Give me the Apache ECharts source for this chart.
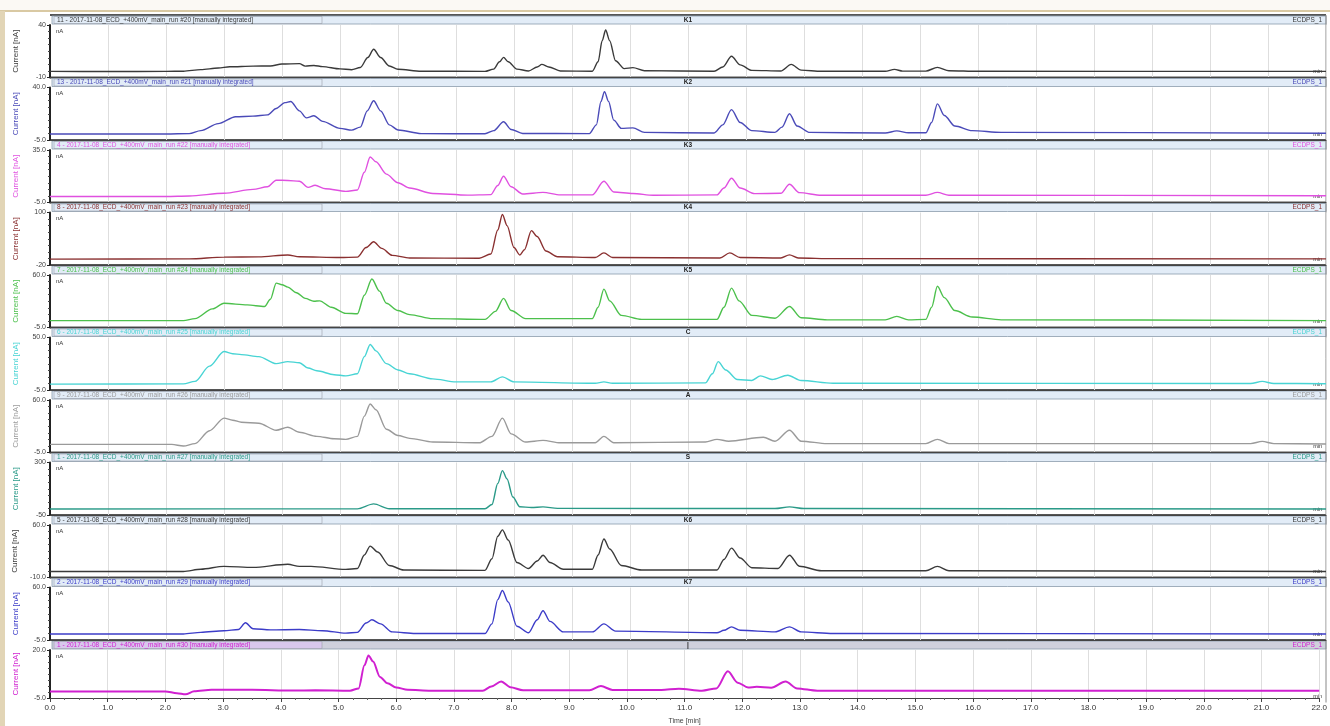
<!DOCTYPE html>
<html>
<head>
<meta charset="utf-8">
<script src="https://cdn.jsdelivr.net/npm/echarts@6/dist/echarts.min.js"></script>
<style>
  html, body { margin: 0; padding: 0; background: #fff; }
  #chart { width: 1330px; height: 726px; }
</style>
</head>
<body>
<div id="chart"></div>
<script>
  // run headers, top to bottom
  var runTitles = [
    '11 - 2017-11-08_ECD_+400mV_main_run #20 [manually integrated]',
    '13 - 2017-11-08_ECD_+400mV_main_run #21 [manually integrated]',
    '4 - 2017-11-08_ECD_+400mV_main_run #22 [manually integrated]',
    '8 - 2017-11-08_ECD_+400mV_main_run #23 [manually integrated]',
    '7 - 2017-11-08_ECD_+400mV_main_run #24 [manually integrated]',
    '6 - 2017-11-08_ECD_+400mV_main_run #25 [manually integrated]',
    '9 - 2017-11-08_ECD_+400mV_main_run #26 [manually integrated]',
    '1 - 2017-11-08_ECD_+400mV_main_run #27 [manually integrated]',
    '5 - 2017-11-08_ECD_+400mV_main_run #28 [manually integrated]',
    '2 - 2017-11-08_ECD_+400mV_main_run #29 [manually integrated]',
    '1 - 2017-11-08_ECD_+400mV_main_run #30 [manually integrated]'
  ];
  var sampleNames = ['K1', 'K2', 'K3', 'K4', 'K5', 'C', 'A', 'S', 'K6', 'K7', '|'];
  var channelName = 'ECDPS_1';

  // y range of each panel (nA)
  var yMax = [40, 40, 35, 100, 60, 50, 60, 300, 60, 60, 20];
  var yMin = [-10, -5, -5, -20, -5, -5, -5, -50, -10, -5, -5];
  var yTopLabels = ['40', '40.0', '35.0', '100', '60.0', '50.0', '60.0', '300', '60.0', '60.0', '20.0'];
  var yBottomLabels = ['-10', '-5.0', '-5.0', '-20', '-5.0', '-5.0', '-5.0', '-50', '-10.0', '-5.0', '-5.0'];

  // traces: [time (min), current (nA)]
  var traceK1 = [[0,-4.2],[1,-4.3],[2,-4.2],[2.3,-4],[2.6,-2.5],[2.9,-1],[3.1,0.2],[3.5,0.8],[3.8,1],[4,2.8],[4.3,3.2],[4.4,0.8],[4.55,1.5],[4.7,0.4],[5,-1.8],[5.2,-2.6],[5.35,-0.5],[5.48,9],[5.58,16.9],[5.7,9],[5.85,1],[6,-2.2],[6.4,-4],[7.5,-4.2],[7.65,-2],[7.75,5],[7.82,9.2],[7.9,5],[8.05,-2],[8.25,-3.8],[8.4,0],[8.48,2.5],[8.6,0],[8.8,-3.8],[9.35,-4],[9.45,5],[9.52,25],[9.58,35.2],[9.65,25],[9.75,6],[9.9,-1.5],[10.05,-0.6],[10.25,-3.5],[11.45,-4],[11.6,0],[11.75,10.2],[11.9,2],[12.1,-3.2],[12.6,-3.8],[12.78,2.5],[12.95,-3],[13.3,-4.1],[14.4,-4],[14.56,-2.3],[14.7,-3.9],[15.1,-3.9],[15.3,-0.4],[15.5,-3.5],[16,-4.1],[22,-4.2]];
  var traceK2 = [[0,0.2],[2,0.2],[2.4,0.5],[2.6,3],[2.9,9],[3.2,14.9],[3.5,15.5],[3.75,16.5],[3.9,22],[4.05,27],[4.15,28],[4.3,20],[4.42,14],[4.55,15.8],[4.7,11],[5,5],[5.2,3.5],[5.35,6],[5.47,20],[5.58,28.7],[5.7,20],[5.85,8],[6,3.6],[6.4,0.5],[7.5,0.3],[7.65,3],[7.82,10.6],[7.95,4],[8.15,0.6],[9.3,0.5],[9.42,8],[9.5,28],[9.56,36.5],[9.63,28],[9.72,12],[9.85,5],[10.05,5.4],[10.25,1.5],[11.45,1],[11.6,8],[11.75,21],[11.9,10],[12.1,3],[12.5,1.5],[12.62,6],[12.75,17.5],[12.88,7],[13.1,1.5],[14.4,1],[14.6,2.8],[14.8,1.2],[15.1,1.2],[15.2,10],[15.3,26],[15.42,16],[15.6,7],[15.9,3],[16.4,1.5],[22,0.8]];
  var traceK3 = [[0,-0.4],[2,-0.4],[2.4,0],[3,2],[3.5,5],[3.75,7],[3.9,12],[4.1,11.8],[4.3,11.2],[4.45,6.5],[4.57,8.1],[4.75,5.5],[5.1,3.5],[5.3,4.5],[5.42,18],[5.52,29.7],[5.62,26],[5.8,16.6],[6,10],[6.2,6],[6.6,1.9],[7.2,0.6],[7.6,1],[7.72,8],[7.82,15],[7.95,7],[8.15,1.5],[8.5,2.7],[8.8,0.8],[9.35,0.8],[9.55,11.2],[9.72,3],[10.05,1.9],[10.4,0.5],[11.5,0.8],[11.62,6],[11.75,13.5],[11.9,6],[12.15,1.8],[12.6,2],[12.75,8.9],[12.92,2.5],[13.3,0.5],[15.1,0.5],[15.3,2.7],[15.5,0.5],[22,0.2]];
  var traceK4 = [[0,-6.5],[2.4,-6],[3,-2],[3.6,-1.5],[4.1,3],[4.3,-1],[5,-3],[5.3,-2],[5.45,20],[5.58,33],[5.72,18],[5.9,2],[6.2,-4],[7.4,-4.5],[7.6,5],[7.72,60],[7.8,95.5],[7.88,70],[8,20],[8.1,3],[8.18,15],[8.3,58.5],[8.4,45],[8.55,12],[8.75,-1],[9.4,-3],[9.55,7.7],[9.7,-3],[11.55,-4],[11.72,7.7],[11.9,-3],[12.6,-4],[12.75,3.1],[12.9,-4],[13.5,-5.5],[22,-6]];
  var traceK5 = [[0,3.5],[2.3,3.5],[2.5,6],[2.8,18],[3,25],[3.4,23],[3.7,21],[3.8,30],[3.9,50],[4,48],[4.1,45],[4.25,38],[4.4,31],[4.55,27.5],[4.65,28],[4.85,20],[5.1,12.5],[5.3,12],[5.42,35],[5.55,55],[5.68,40],[5.8,25],[6,16],[6.2,11],[6.6,6],[7.5,5],[7.68,15],[7.82,31],[7.95,16],[8.2,6],[9.35,6],[9.45,20],[9.55,42.5],[9.65,28],[9.85,10],[10.2,5],[11.5,5],[11.62,20],[11.75,43.8],[11.88,28],[12.1,10],[12.5,6.5],[12.75,21],[12.95,7],[13.4,4.5],[14.4,4.5],[14.6,8.8],[14.8,4.5],[15.1,5],[15.2,20],[15.3,46],[15.42,32],[15.6,16],[15.9,8],[16.4,4.5],[22,3.5]];
  var traceC = [[0,1.2],[2.3,1.4],[2.5,4],[2.75,20],[3,35.3],[3.15,33],[3.3,32.1],[3.6,30],[3.9,22.6],[4.1,24.7],[4.3,23.6],[4.45,18],[4.6,15.1],[4.9,11],[5.1,9.8],[5.3,12],[5.42,30],[5.52,42.7],[5.62,36],[5.8,22.6],[6,16],[6.2,12],[6.6,6.7],[7,3.5],[7.6,3.5],[7.8,8.8],[8,3.5],[9.4,2],[9.55,3.5],[9.7,2],[11.3,2.5],[11.42,12],[11.52,24.7],[11.65,16],[11.85,6],[12.1,5],[12.25,9.8],[12.45,6],[12.72,10.5],[12.95,5],[13.5,2],[20.7,1.8],[20.9,4],[21.1,1.8],[22,1.6]];
  var traceA = [[0,5],[2.1,5],[2.3,3],[2.5,6],[2.75,22],[3,37.5],[3.15,35],[3.3,32.5],[3.6,31.3],[3.9,22.5],[4.1,26.3],[4.3,20],[4.6,15],[4.9,12],[5.1,11.3],[5.3,15],[5.42,40],[5.52,55],[5.62,48],[5.8,23.8],[6,16],[6.2,12.5],[6.6,8],[7.4,7],[7.62,15],[7.8,37.5],[7.95,18],[8.2,8],[8.5,10],[8.8,7],[9.4,7],[9.55,15],[9.72,7],[11.3,8],[11.5,11.3],[11.7,9],[12.3,13.8],[12.5,9],[12.75,22.5],[12.95,9],[13.4,6],[15.1,6],[15.3,11.3],[15.5,6],[20.7,6],[20.9,8.8],[21.1,6],[22,5.5]];
  var traceS = [[0,-10],[5.3,-9],[5.58,24],[5.85,-8],[7.5,-8],[7.62,20],[7.72,160],[7.8,246],[7.88,190],[7.98,70],[8.1,5],[8.3,0],[8.5,4],[8.75,-6],[12.5,-7],[12.75,4],[13,-7],[22,-10]];
  var traceK6 = [[0,-1.9],[2.3,-1.9],[2.6,1],[3,4.9],[3.5,3.5],[4.1,7.6],[4.3,4.8],[4.5,4.9],[5.1,0.8],[5.3,2],[5.42,20],[5.52,31.9],[5.65,24],[5.85,6],[6.1,0],[7.5,-0.5],[7.62,15],[7.72,45],[7.8,53.5],[7.9,40],[8.05,10],[8.25,2],[8.4,12],[8.5,19.7],[8.62,10],[8.85,1],[9.35,1],[9.45,20],[9.55,41.3],[9.65,28],[9.85,6],[10.2,0],[11.5,0],[11.62,14],[11.75,29.2],[11.9,16],[12.1,3],[12.55,2],[12.75,19.7],[12.92,5],[13.3,-1],[15.1,-1],[15.3,4.9],[15.5,-1],[22,-1.9]];
  var traceK7 = [[0,2.5],[2.3,2.5],[2.6,4.5],[3,6.5],[3.25,8],[3.37,16.3],[3.5,9],[3.8,7.5],[4.3,8],[4.7,6.5],[5.1,3.5],[5.3,4.5],[5.45,16],[5.55,20],[5.7,15],[5.9,5],[6.3,3],[7.5,3],[7.62,15],[7.72,45],[7.8,56.3],[7.9,42],[8.05,12],[8.25,4],[8.4,20],[8.5,31.3],[8.62,18],[8.85,5],[9.35,5],[9.55,15],[9.75,6],[11.5,4],[11.62,7],[11.75,11.3],[11.9,7],[12.5,5],[12.75,11.3],[12.95,5],[13.5,3],[22,2.5]];
  var traceL = [[0,-1.6],[2,-1.6],[2.2,-2.5],[2.35,-3.1],[2.5,-1.5],[2.8,-0.7],[3.5,-0.7],[4.2,-1.1],[4.6,-1],[5.2,-1.2],[5.35,0],[5.45,12],[5.52,17.1],[5.6,14],[5.72,6],[5.85,2.7],[6,0.5],[6.2,-0.7],[6.6,-1.2],[7.5,-1.2],[7.65,1],[7.82,3.6],[7.98,0.6],[8.2,-1],[9.35,-1],[9.55,1.2],[9.75,-0.8],[10.6,-0.8],[10.9,-0.2],[11.3,-1.2],[11.55,0],[11.75,8.9],[11.92,3],[12.1,0.5],[12.25,0.8],[12.5,0.3],[12.75,3.6],[12.95,0],[13.3,-1.2],[22,-1.2]];

  var traces = [traceK1, traceK2, traceK3, traceK4, traceK5, traceC, traceA, traceS, traceK6, traceK7, traceL];
  var colors = ['#3a3a3a', '#4a4ab8', '#e050e0', '#8a3030', '#4cc04c', '#48d4d4', '#9a9a9a', '#2a9a88', '#3a3a3a', '#3c3cc8', '#d020d0'];

  var chart = echarts.init(document.getElementById('chart'));
  var font = 'Liberation Sans, Arial, sans-serif';
  var left = 50, right = 1326, top0 = 15, pitch = 62.5, headH = 9;

  var grids = [], xAxes = [], yAxes = [], series = [], graphics = [];

  // page frame
  graphics.push({ type: 'rect', shape: { x: 0, y: 0, width: 1330, height: 11 }, style: { fill: '#fbf9f4' }, silent: true });
  graphics.push({ type: 'line', shape: { x1: 0, y1: 11, x2: 1330, y2: 11 }, style: { stroke: '#d9c9a3', lineWidth: 2 }, silent: true });
  graphics.push({ type: 'rect', shape: { x: 0, y: 11, width: 5, height: 715 }, style: { fill: '#e2d5b6' }, silent: true });

  traces.forEach(function (tr, i) {
    var H = top0 + pitch * i;
    var last = i === traces.length - 1;
    grids.push({ left: left, width: right - left, top: H + headH + 1, height: pitch - headH - 1 });
    xAxes.push({
      type: 'value', gridIndex: i, min: 0, max: 22, interval: 1,
      axisLine: { show: true, onZero: false, lineStyle: { color: '#444', width: 1 } },
      axisTick: { show: last, length: 4, lineStyle: { color: '#444' } },
      minorTick: { show: last, splitNumber: 4, length: 2, lineStyle: { color: '#666' } },
      axisLabel: { show: last, fontSize: 8, color: '#333', fontFamily: font, margin: 6,
        formatter: function (v) { return v.toFixed(1); } },
      splitLine: { show: true, lineStyle: { color: '#dedede', width: 1 } },
      name: last ? 'Time [min]' : '', nameLocation: 'middle', nameGap: 20,
      nameTextStyle: { fontSize: 7, color: '#444', fontFamily: font }
    });
    yAxes.push({
      type: 'value', gridIndex: i, min: yMin[i], max: yMax[i], interval: yMax[i] - yMin[i],
      axisLine: { show: true, onZero: false, lineStyle: { color: '#222', width: 2 } },
      axisTick: { show: true, length: 3, lineStyle: { color: '#222' } },
      minorTick: { show: true, splitNumber: 8, length: 2, lineStyle: { color: '#444' } },
      axisLabel: { fontSize: 7, color: '#444', fontFamily: font, margin: 4,
        formatter: function (v) { return v === yMax[i] ? yTopLabels[i] : yBottomLabels[i]; } },
      splitLine: { show: false },
      name: 'Current [nA]', nameLocation: 'middle', nameGap: 30, nameRotate: 90,
      nameTextStyle: { fontSize: 8, color: colors[i], fontFamily: font }
    });
    series.push({
      type: 'line', xAxisIndex: i, yAxisIndex: i, data: tr,
      symbol: 'none', smooth: 0.3, smoothMonotone: 'x', animation: false,
      lineStyle: { color: colors[i], width: last ? 2 : 1.4 }
    });

    // header bar
    graphics.push({ type: 'line', shape: { x1: left, y1: H, x2: right, y2: H }, style: { stroke: '#555', lineWidth: 2 }, silent: true });
    graphics.push({ type: 'rect', shape: { x: left + 2, y: H + 1, width: right - left - 2, height: headH - 1 },
      style: { fill: last ? '#cfd0dc' : '#e2ecf7', stroke: '#8c9cac', lineWidth: 0.8 }, silent: true });
    graphics.push({ type: 'rect', shape: { x: left + 4, y: H + 1.5, width: 268, height: headH - 2 },
      style: { fill: last ? '#d8c8ec' : 'rgba(0,0,0,0)', stroke: '#9aa0aa', lineWidth: 0.6 }, silent: true });
    graphics.push({ type: 'text', x: left + 7, y: H + 1.5, silent: true,
      style: { text: runTitles[i], fill: colors[i], fontSize: 6.5, fontFamily: font } });
    graphics.push({ type: 'text', x: (left + right) / 2, y: H + 1.5, silent: true,
      style: { text: sampleNames[i], fill: '#222', fontSize: 6.5, fontWeight: 'bold', fontFamily: font, align: 'center' } });
    graphics.push({ type: 'text', x: right - 4, y: H + 1.5, silent: true,
      style: { text: channelName, fill: colors[i], fontSize: 6.5, fontFamily: font, align: 'right' } });
    // unit marks in plot corners
    graphics.push({ type: 'text', x: left + 6, y: H + headH + 4, silent: true,
      style: { text: 'nA', fill: '#333', fontSize: 6, fontFamily: font } });
    graphics.push({ type: 'text', x: right - 4, y: H + pitch - 9, silent: true,
      style: { text: 'min', fill: '#333', fontSize: 5.5, fontFamily: font, align: 'right' } });
  });
  graphics.push({ type: 'line', shape: { x1: right, y1: top0, x2: right, y2: top0 + pitch * 11 }, style: { stroke: '#888', lineWidth: 1 }, silent: true });

  chart.setOption({
    backgroundColor: '#ffffff',
    animation: false,
    grid: grids,
    xAxis: xAxes,
    yAxis: yAxes,
    series: series,
    graphic: graphics
  });
</script>
</body>
</html>
